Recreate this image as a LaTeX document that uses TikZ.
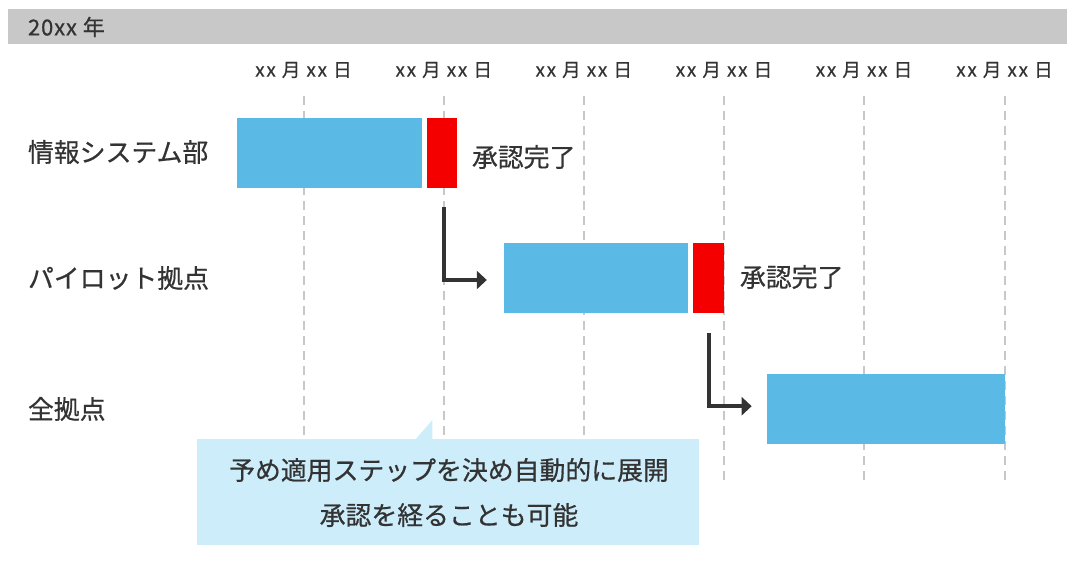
\documentclass[tikz,border=0pt]{standalone}
\usepackage{fontspec}
\setmainfont[FakeBold=0.6]{Noto Sans CJK JP}
\newfontfamily\datefont[FakeBold=0.6,LetterSpace=10]{Noto Sans CJK JP}
\newfontfamily\yearfont[FakeBold=0.6,LetterSpace=4]{Noto Sans CJK JP}
\usetikzlibrary{arrows.meta,calc}
\definecolor{barblue}{HTML}{5BB9E5}
\definecolor{barred}{HTML}{F50000}
\definecolor{hdrgray}{HTML}{C8C8C8}
\definecolor{gridgray}{HTML}{C8C8C8}
\definecolor{notefill}{HTML}{CDEDFB}
\definecolor{txt}{HTML}{333333}
\begin{document}
\begin{tikzpicture}[x=0.75pt,y=-0.75pt,
  every node/.style={inner sep=0pt, outer sep=0pt, text=txt},
  gridline/.style={draw=gridgray, line width=1.5pt, dash pattern=on 6.75pt off 4.5pt},
  bar/.style={fill=barblue, minimum height={70.5*0.75pt}},
  done/.style={fill=barred, minimum height={70.5*0.75pt}, minimum width={30.7*0.75pt}},
  rowlabel/.style={anchor=west, font=\fontsize{19.4pt}{22pt}\selectfont},
  datelabel/.style={font=\datefont\fontsize{14pt}{16pt}\selectfont},
  donelabel/.style={anchor=west, font=\fontsize{19.4pt}{22pt}\selectfont},
  conn/.style={draw=txt, line width=2.6pt, -{Triangle[length=7.5pt,width=13.5pt]}},
]
\useasboundingbox (0,0) rectangle (1073,563);
% header
\node[fill=hdrgray, minimum width={1059*0.75pt}, minimum height={35*0.75pt}] (hdr) at (537.5,26.5) {};
\node[anchor=west, font=\yearfont\fontsize{16.5pt}{18pt}\selectfont] (yr) at (28,27) {20xx 年};
% date labels and grid lines
\foreach \i/\x in {1/303.5,2/443.8,3/583.8,4/724,5/864,6/1004.5}{
  \node[datelabel] (d\i) at (\x,70) {xx 月 xx 日};
  \draw[gridline] (\x,96) -- (\x,480);
}
% row labels
\node[rowlabel] (l1) at (28,152) {情報システム部};
\node[rowlabel] (l2) at (28,278) {パイロット拠点};
\node[rowlabel] (l3) at (28,409) {全拠点};
% bars
\node[bar, minimum width={184.4*0.75pt}] (b1) at (329.5,153) {};
\node[done] (r1) at (442,153) {};
\node[donelabel] (c1) at (472,157) {承認完了};
\node[bar, minimum width={184*0.75pt}] (b2) at (596.3,278) {};
\node[done] (r2) at (708.7,278) {};
\node[donelabel] (c2) at (740,277) {承認完了};
\node[bar, minimum width={238.3*0.75pt}] (b3) at (885.8,409.2) {};
% connectors
\coordinate (e1) at ($(b2.west)+(-17.5,2)$);
\draw[conn] ($(r1.south)+(2,19)$) |- (e1);
\coordinate (e2) at ($(b3.west)+(-15,-3)$);
\draw[conn] ($(r2.south)+(0.3,20)$) |- (e2);
% callout
\node[fill=notefill, minimum width={502*0.75pt}, minimum height={106*0.75pt}] (note) at (448,492) {};
\fill[notefill] (415,440) -- (432.3,420) -- (432.3,440) -- cycle;
\node[align=center, font=\fontsize{19.4pt}{33.75pt}\selectfont] (nt) at (449,492.5) {予め適用ステップを決め自動的に展開\\承認を経ることも可能};
\end{tikzpicture}
\end{document}
